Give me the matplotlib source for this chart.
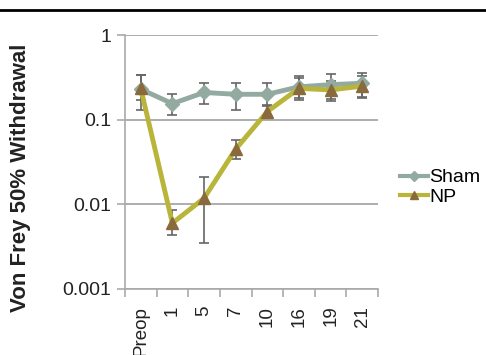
import matplotlib
matplotlib.use("Agg")
import matplotlib.pyplot as plt
from matplotlib.lines import Line2D
import numpy as np

# ----------------- DATA -----------------
days = ["Preop", "1", "5", "7", "10", "16", "19", "21"]

sham = [0.23, 0.155, 0.21, 0.20, 0.20, 0.245, 0.26, 0.27]
sham_lo = [0.17, 0.115, 0.155, 0.13, 0.145, 0.18, 0.175, 0.18]
sham_hi = [0.34, 0.20, 0.27, 0.27, 0.27, 0.33, 0.35, 0.36]

np_vals = [0.235, 0.006, 0.0118, 0.045, 0.125, 0.235, 0.225, 0.25]
np_lo = [0.13, 0.0043, 0.0035, 0.034, 0.105, 0.17, 0.165, 0.185]
np_hi = [0.34, 0.0086, 0.021, 0.057, 0.15, 0.31, 0.29, 0.33]

yticks = [0.001, 0.01, 0.1, 1]
ytick_labels = ["0.001", "0.01", "0.1", "1"]

# ----------------- PLOT -----------------
plt.rcParams["font.family"] = ["Liberation Sans", "DejaVu Sans"]

fig = plt.figure(figsize=(4.86, 3.55), dpi=100)
ax = fig.add_axes([0.257, 0.186, 0.521, 0.715])

x = np.arange(len(days))

sham_col = "#93aaa1"
np_col = "#b9b53a"
tri_col = "#8a6a3c"
err_col = "#666666"

def yerr(v, lo, hi):
    v = np.array(v)
    return [v - np.array(lo), np.array(hi) - v]

ax.errorbar(x, sham, yerr=yerr(sham, sham_lo, sham_hi), fmt="none",
            ecolor=err_col, elinewidth=1.2, capsize=3.5, capthick=1.2, zorder=2)
ax.errorbar(x, np_vals, yerr=yerr(np_vals, np_lo, np_hi), fmt="none",
            ecolor=err_col, elinewidth=1.2, capsize=3.5, capthick=1.2, zorder=2)

ax.plot(x, sham, color=sham_col, lw=3.5, marker="D", ms=7,
        mfc=sham_col, mec=sham_col, label="Sham", zorder=3)
ax.plot(x, np_vals, color=np_col, lw=3.5, marker="^", ms=9,
        mfc=tri_col, mec=tri_col, label="NP", zorder=4)

ax.set_yscale("log")
ax.set_ylim(0.001, 1)
ax.set_xlim(-0.5, len(days) - 0.5)
ax.set_yticks(yticks)
ax.set_yticklabels(ytick_labels)
ax.yaxis.set_minor_locator(matplotlib.ticker.NullLocator())

ax.set_xticks(x)
ax.set_xticklabels(days, rotation=90)
ax.set_xticks(np.arange(len(days) + 1) - 0.5, minor=True)
ax.tick_params(axis="x", which="major", length=0, pad=12, labelsize=13.5, labelcolor="#222222")
ax.tick_params(axis="x", which="minor", length=6, width=1.2, color="#aaaaaa", direction="out")
ax.tick_params(axis="y", length=6, width=1.2, color="#aaaaaa", labelsize=14,
               labelcolor="#222222", pad=4)

ax.grid(axis="y", which="major", color="#a0a0a0", lw=1.2)
ax.set_axisbelow(True)
for s in ["top", "right"]:
    ax.spines[s].set_visible(False)
for s in ["left", "bottom"]:
    ax.spines[s].set_color("#aaaaaa")
    ax.spines[s].set_linewidth(1.2)

ax.set_ylabel("Von Frey 50% Withdrawal", fontsize=16, fontweight="bold",
              color="#222222")
ax.yaxis.set_label_coords(-0.37, 0.437)

leg = ax.legend(loc="center left", bbox_to_anchor=(0.823, 0.472),
                bbox_transform=fig.transFigure, frameon=False,
                fontsize=14, handlelength=1.45, handletextpad=0.05, labelspacing=0.1,
                borderaxespad=0, borderpad=0, markerscale=0.7)
for h in leg.get_lines():
    h.set_linewidth(3)

fig.add_artist(Line2D([0, 1], [0.972, 0.972], color="black", lw=2,
                      transform=fig.transFigure))

fig.savefig("out.png", dpi=100)
